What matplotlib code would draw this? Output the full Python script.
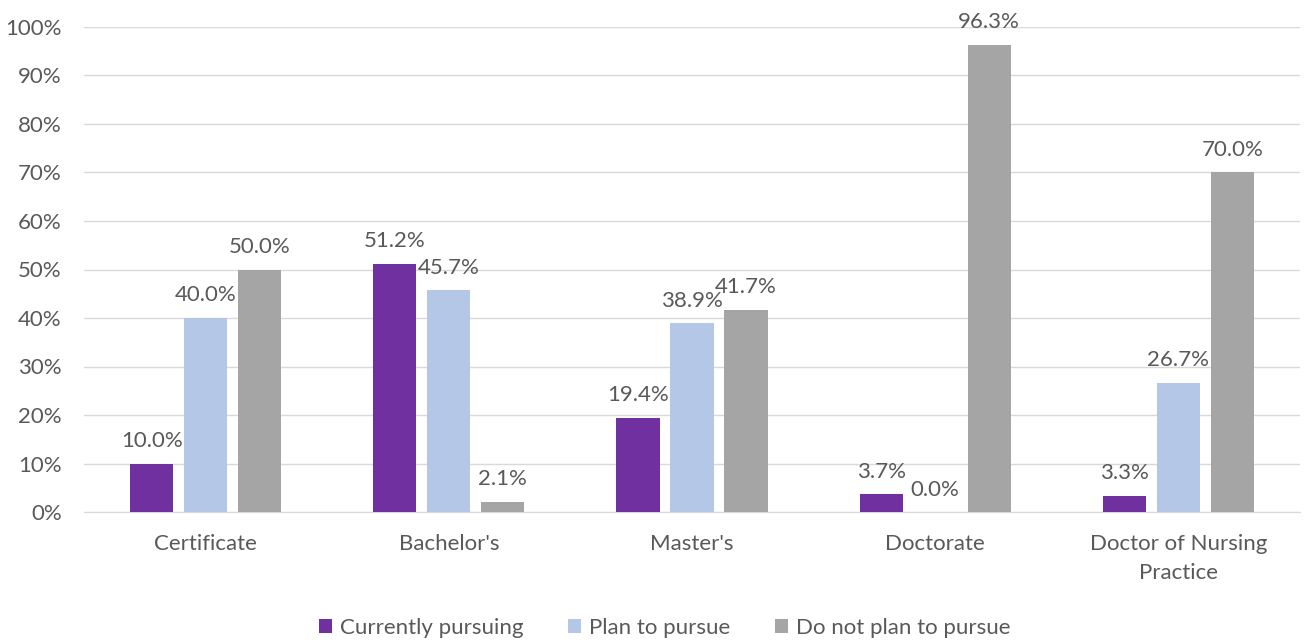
import matplotlib
matplotlib.use("Agg")
import matplotlib.pyplot as plt
import numpy as np
from matplotlib.ticker import FuncFormatter

categories = ["Certificate", "Bachelor's", "Master's", "Doctorate", "Doctor of Nursing\nPractice"]
series_names = ["Currently pursuing", "Plan to pursue", "Do not plan to pursue"]
currently = [10.0, 51.2, 19.4, 3.7, 3.3]
plan = [40.0, 45.7, 38.9, 0.0, 26.7]
not_plan = [50.0, 2.1, 41.7, 96.3, 70.0]
colors = ["#7030A0", "#B4C7E7", "#A5A5A5"]

plt.rcParams['font.family'] = ['Lato', 'DejaVu Sans']
txt = "#595959"

fig = plt.figure(figsize=(13.11, 6.44), dpi=100)
ax = fig.add_axes([84/1311, 1-512/644, (1300-84)/1311, (512-27)/644])

x = np.arange(len(categories))
w = 0.177
step = 0.222
for i, (vals, name, c) in enumerate(zip([currently, plan, not_plan], series_names, colors)):
    pos = x + (i - 1) * step
    ax.bar(pos, vals, width=w, color=c, label=name, zorder=3)
    for p, v in zip(pos, vals):
        ax.annotate(f"{v:.1f}%", (p, v), xytext=(0, 9), textcoords="offset points",
                    ha="center", va="bottom", fontsize=16, color=txt)

ax.set_xlim(-0.5, 4.5)
ax.set_ylim(0, 100)
ax.set_yticks(np.arange(0, 101, 10))
ax.yaxis.set_major_formatter(FuncFormatter(lambda v, p: f"{int(v)}%"))
ax.set_xticks(x)
ax.set_xticklabels(categories, linespacing=1.55)
ax.tick_params(axis="both", length=0, labelsize=16, colors=txt)
ax.tick_params(axis="x", pad=16)
ax.tick_params(axis="y", pad=16)
ax.grid(axis="y", color="#D9D9D9", linewidth=1, zorder=0)
for s in ["top", "right", "left"]:
    ax.spines[s].set_visible(False)
ax.spines["bottom"].set_color("#D9D9D9")

leg = fig.legend(loc="center", bbox_to_anchor=(0.507, 1 - 628/644), ncol=3, frameon=False,
                 fontsize=16, handlelength=0.6, handleheight=0.6, columnspacing=2.0,
                 handletextpad=0.35)
for t in leg.get_texts():
    t.set_color(txt)

fig.savefig("out.png", dpi=100)
